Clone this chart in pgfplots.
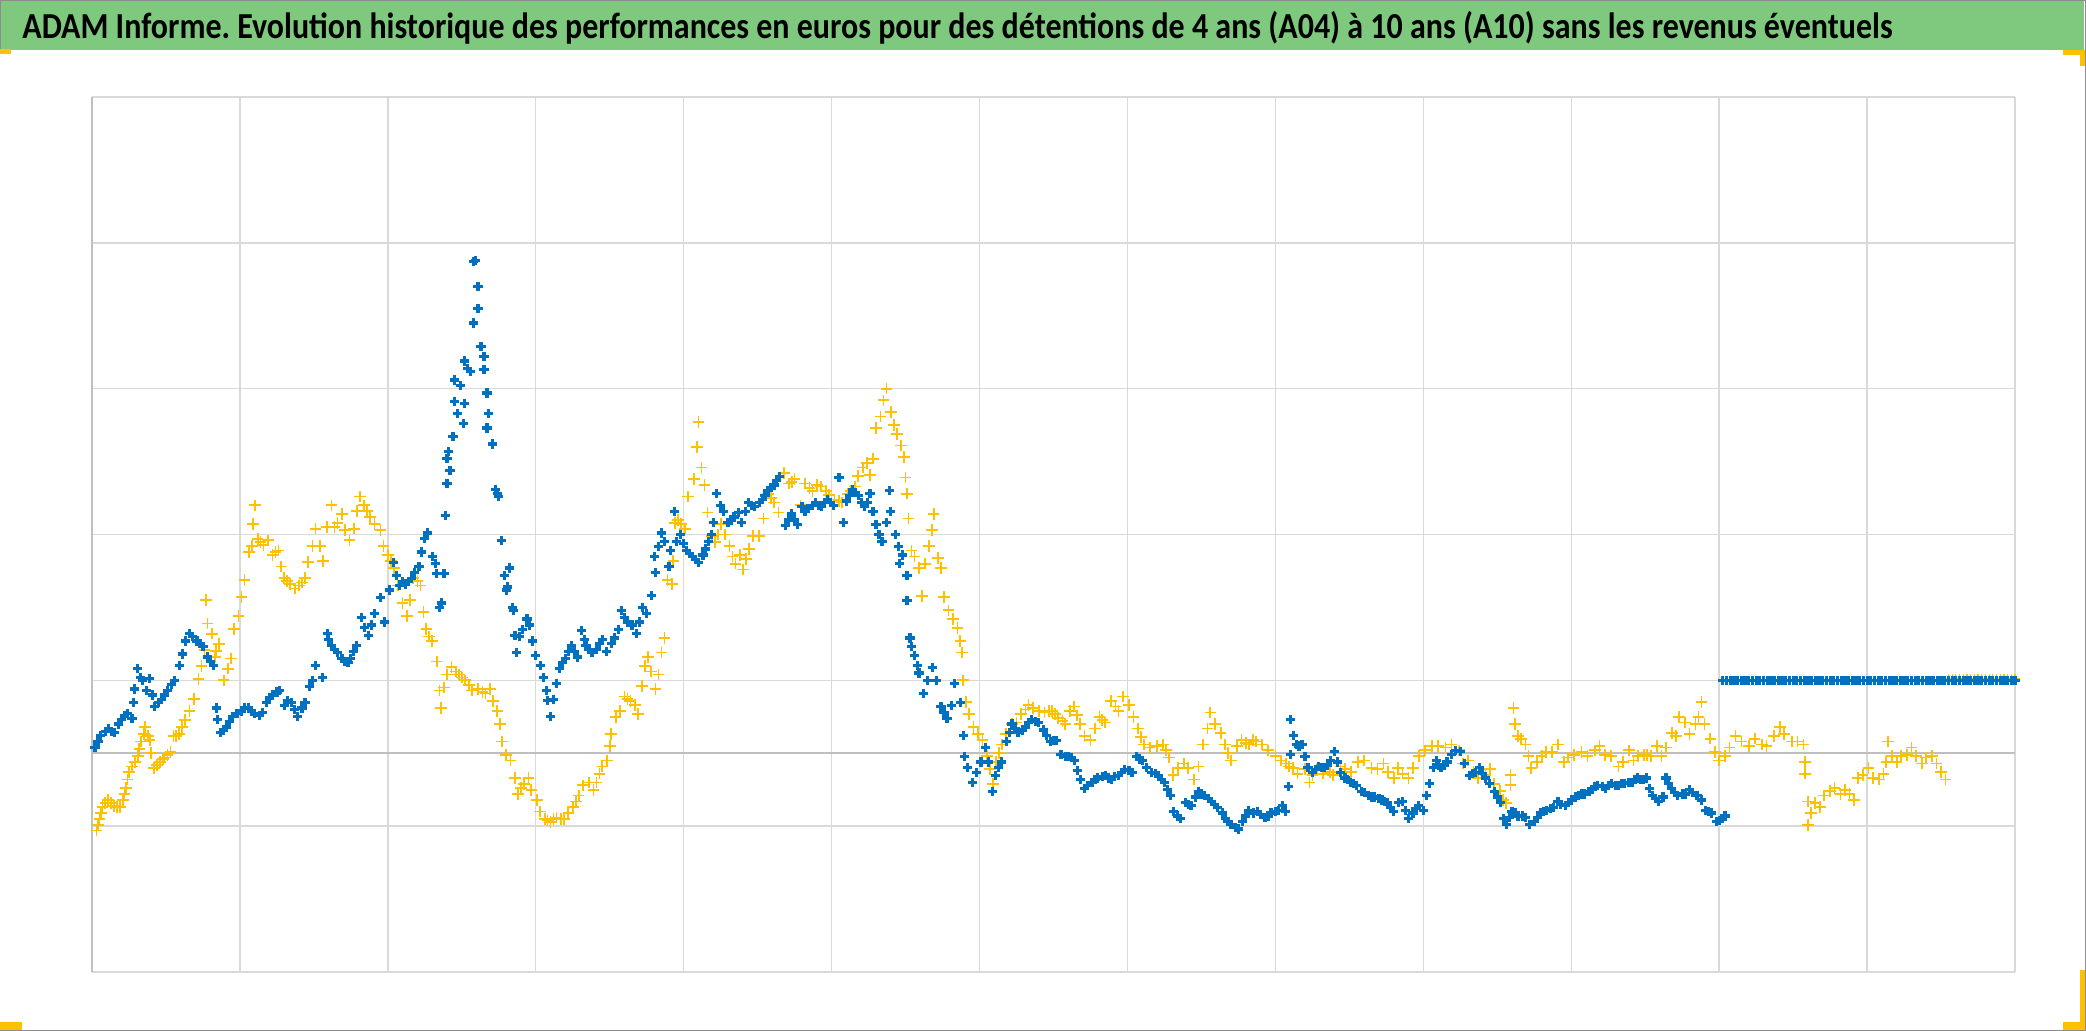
\documentclass[border=0pt]{standalone}
\usepackage{pgfplots}
\pgfplotsset{compat=1.18}
\usepackage{fontspec}
\setmainfont{Carlito}
\usepackage{graphicx}
\definecolor{blueA}{RGB}{0,112,192}
\definecolor{orangeA}{RGB}{255,192,0}
\definecolor{greenT}{RGB}{127,201,127}
\definecolor{gridg}{RGB}{217,217,217}
\definecolor{axisg}{RGB}{191,191,191}
\definecolor{frameg}{RGB}{140,140,140}
\frenchspacing
\begin{document}
\begin{tikzpicture}[x=1pt,y=1pt]
\fill[white] (0,0) rectangle (1043,515.5);
\fill[greenT] (0,490.5) rectangle (1042,515.5);
\draw[frameg, line width=0.6pt] (0.3,490.5) -- (0.3,515.2) -- (1042.7,515.2) -- (1042.7,0.3) -- (0,0.3);
\node[anchor=base west, inner sep=0pt] at (11,496.0) {\resizebox{935pt}{\height}{\fontsize{18.3}{21}\selectfont\bfseries ADAM Informe. Evolution historique des performances en euros pour des détentions de 4 ans (A04) à 10 ans (A10) sans les revenus éventuels}};
% selection handles
\fill[orangeA] (0,488.5) rectangle (5.5,491);
\fill[orangeA] (1031.5,488) rectangle (1042.5,490.5);
\fill[orangeA] (1040,482.5) rectangle (1042.5,490.5);
\fill[orangeA] (0,0.5) rectangle (11,4.5);
\fill[orangeA] (1040,0.5) rectangle (1042.5,30.5);
\fill[orangeA] (1031.5,0.5) rectangle (1042.5,4.5);
\begin{axis}[at={(46pt,29.5pt)}, anchor=south west, width=961.5pt, height=437.5pt, scale only axis,
  xmin=0, xmax=13, ymin=-1.5, ymax=4.5,
  xtick={0,...,13}, ytick={-1.5,-0.5,...,4.5}, xticklabels={}, yticklabels={},
  major tick length=0pt, xmajorgrids, ymajorgrids,
  major grid style={gridg, line width=0.7pt}, axis line style={draw=none}, clip=false]
\draw[axisg, line width=1.1pt] (axis cs:0,0) -- (axis cs:13,0);
\draw[axisg, line width=1.0pt] (axis cs:0,-1.5) -- (axis cs:0,4.5);
\addplot[orangeA, only marks, mark=+, mark size=2.9pt, line width=0.85pt] coordinates {
(0.03,-0.53)(0.04,-0.49)(0.05,-0.45)(0.06,-0.41)(0.07,-0.37)(0.09,-0.34)(0.11,-0.32)(0.13,-0.34)(0.15,-0.36)(0.17,-0.37)(0.19,-0.37)(0.21,-0.32)(0.22,-0.28)(0.23,-0.24)(0.24,-0.18)(0.25,-0.13)(0.27,-0.09)(0.29,-0.06)(0.31,-0.02)(0.32,0.03)(0.33,0.08)(0.35,0.13)(0.36,0.18)(0.38,0.12)(0.39,0.09)(0.40,0.00)(0.42,-0.10)(0.44,-0.08)(0.46,-0.06)(0.48,-0.04)(0.49,-0.03)(0.51,-0.01)(0.53,0.01)(0.55,0.12)(0.57,0.12)(0.59,0.13)(0.61,0.18)(0.63,0.23)(0.66,0.29)(0.69,0.37)(0.72,0.51)(0.74,0.60)(0.76,0.71)(0.77,1.05)(0.78,0.89)(0.81,0.82)(0.83,0.66)(0.84,0.70)(0.86,0.75)(0.89,0.50)(0.92,0.58)(0.94,0.65)(0.96,0.85)(0.99,0.94)(1.01,1.07)(1.03,1.19)(1.06,1.38)(1.08,1.42)(1.09,1.57)(1.10,1.70)(1.12,1.47)(1.14,1.45)(1.16,1.43)(1.19,1.46)(1.22,1.36)(1.24,1.38)(1.26,1.39)(1.28,1.28)(1.30,1.20)(1.32,1.18)(1.34,1.16)(1.37,1.13)(1.40,1.15)(1.42,1.17)(1.44,1.20)(1.46,1.31)(1.49,1.42)(1.51,1.54)(1.54,1.42)(1.56,1.32)(1.59,1.55)(1.62,1.70)(1.64,1.55)(1.66,1.58)(1.69,1.64)(1.71,1.53)(1.74,1.46)(1.77,1.54)(1.79,1.66)(1.81,1.76)(1.84,1.70)(1.86,1.66)(1.88,1.62)(1.91,1.57)(1.95,1.53)(1.97,1.42)(2.00,1.36)(2.02,1.32)(2.04,1.27)(2.07,1.15)(2.10,1.03)(2.13,0.94)(2.15,1.05)(2.17,1.20)(2.20,1.18)(2.22,1.15)(2.24,0.97)(2.26,0.85)(2.28,0.80)(2.30,0.77)(2.33,0.63)(2.35,0.43)(2.36,0.31)(2.38,0.45)(2.40,0.54)(2.43,0.59)(2.46,0.56)(2.48,0.54)(2.50,0.52)(2.52,0.50)(2.55,0.47)(2.57,0.43)(2.61,0.44)(2.64,0.42)(2.66,0.41)(2.69,0.44)(2.71,0.36)(2.74,0.29)(2.76,0.20)(2.77,0.08)(2.80,-0.01)(2.83,-0.05)(2.86,-0.17)(2.88,-0.28)(2.90,-0.24)(2.92,-0.21)(2.95,-0.17)(2.97,-0.25)(3.01,-0.32)(3.03,-0.40)(3.06,-0.45)(3.08,-0.46)(3.10,-0.47)(3.12,-0.45)(3.14,-0.44)(3.17,-0.45)(3.19,-0.45)(3.22,-0.41)(3.25,-0.37)(3.27,-0.33)(3.29,-0.29)(3.32,-0.22)(3.36,-0.20)(3.39,-0.25)(3.41,-0.20)(3.43,-0.14)(3.45,-0.09)(3.48,-0.05)(3.50,0.05)(3.51,0.13)(3.54,0.25)(3.57,0.29)(3.60,0.39)(3.62,0.37)(3.64,0.36)(3.67,0.33)(3.69,0.27)(3.72,0.46)(3.74,0.60)(3.76,0.66)(3.78,0.56)(3.81,0.44)(3.83,0.54)(3.85,0.69)(3.87,0.79)(3.89,1.19)(3.92,1.16)(3.93,1.32)(3.94,1.58)(3.96,1.60)(3.98,1.57)(4.01,1.54)(4.03,1.76)(4.07,1.88)(4.09,2.10)(4.10,2.27)(4.12,1.96)(4.14,1.84)(4.16,1.65)(4.19,1.49)(4.21,1.45)(4.23,1.50)(4.25,1.57)(4.28,1.50)(4.31,1.42)(4.33,1.35)(4.35,1.30)(4.38,1.36)(4.40,1.26)(4.42,1.33)(4.44,1.40)(4.47,1.49)(4.51,1.49)(4.54,1.61)(4.57,1.78)(4.59,1.75)(4.61,1.72)(4.64,1.65)(4.68,1.92)(4.71,1.85)(4.73,1.86)(4.75,1.88)(4.79,1.70)(4.82,1.85)(4.85,1.82)(4.87,1.80)(4.90,1.84)(4.93,1.83)(4.96,1.80)(4.98,1.77)(5.02,1.74)(5.05,1.73)(5.07,1.72)(5.11,1.78)(5.13,1.80)(5.16,1.83)(5.18,1.90)(5.21,1.96)(5.24,1.99)(5.26,1.91)(5.28,2.02)(5.30,2.23)(5.33,2.31)(5.35,2.42)(5.37,2.50)(5.40,2.34)(5.42,2.25)(5.44,2.19)(5.47,2.11)(5.49,2.03)(5.50,1.89)(5.51,1.78)(5.52,1.61)(5.54,1.39)(5.56,1.35)(5.59,1.27)(5.61,1.08)(5.63,1.30)(5.66,1.42)(5.68,1.53)(5.69,1.64)(5.72,1.34)(5.74,1.27)(5.76,1.07)(5.79,0.98)(5.82,0.92)(5.85,0.86)(5.87,0.77)(5.88,0.69)(5.89,0.50)(5.91,0.35)(5.93,0.27)(5.96,0.18)(5.99,0.13)(6.02,0.09)(6.05,-0.02)(6.07,-0.11)(6.09,-0.21)(6.11,-0.06)(6.13,0.00)(6.15,0.06)(6.18,0.13)(6.22,0.20)(6.25,0.21)(6.28,0.27)(6.31,0.30)(6.33,0.33)(6.36,0.31)(6.40,0.29)(6.44,0.28)(6.47,0.29)(6.49,0.29)(6.51,0.27)(6.53,0.24)(6.56,0.22)(6.58,0.20)(6.61,0.29)(6.64,0.32)(6.66,0.26)(6.68,0.20)(6.71,0.12)(6.75,0.09)(6.78,0.17)(6.81,0.25)(6.83,0.23)(6.85,0.21)(6.89,0.36)(6.92,0.32)(6.94,0.29)(6.97,0.39)(7.01,0.33)(7.04,0.25)(7.07,0.17)(7.09,0.11)(7.11,0.06)(7.15,0.04)(7.20,0.05)(7.24,0.06)(7.26,0.02)(7.28,-0.03)(7.31,-0.15)(7.34,-0.10)(7.38,-0.07)(7.41,-0.10)(7.45,-0.18)(7.48,-0.09)(7.51,0.06)(7.54,0.17)(7.56,0.28)(7.59,0.20)(7.63,0.14)(7.66,0.06)(7.68,0.00)(7.70,-0.05)(7.74,0.05)(7.77,0.09)(7.80,0.07)(7.82,0.06)(7.85,0.09)(7.87,0.08)(7.91,0.06)(7.95,0.02)(8.00,-0.02)(8.04,-0.05)(8.07,-0.07)(8.09,-0.09)(8.12,-0.10)(8.15,-0.14)(8.20,-0.11)(8.23,-0.20)(8.25,-0.15)(8.28,-0.11)(8.32,-0.14)(8.37,-0.13)(8.39,-0.15)(8.44,-0.09)(8.47,-0.11)(8.51,-0.13)(8.56,-0.06)(8.60,-0.05)(8.65,-0.10)(8.69,-0.11)(8.73,-0.07)(8.76,-0.13)(8.80,-0.17)(8.83,-0.10)(8.86,-0.14)(8.90,-0.17)(8.93,-0.10)(8.97,-0.02)(9.01,0.02)(9.06,0.05)(9.10,0.05)(9.15,0.04)(9.19,0.06)(9.24,0.02)(9.27,-0.07)(9.30,-0.05)(9.34,-0.13)(9.37,-0.17)(9.42,-0.15)(9.45,-0.11)(9.48,-0.21)(9.52,-0.26)(9.54,-0.32)(9.56,-0.34)(9.59,-0.22)(9.59,-0.15)(9.61,0.31)(9.62,0.20)(9.64,0.12)(9.66,0.10)(9.69,0.06)(9.71,-0.02)(9.73,-0.10)(9.77,-0.06)(9.80,-0.02)(9.83,0.01)(9.87,0.01)(9.91,0.06)(9.95,-0.06)(9.98,-0.03)(10.02,-0.01)(10.07,0.01)(10.11,-0.02)(10.16,0.02)(10.19,0.05)(10.23,-0.01)(10.27,-0.02)(10.32,-0.09)(10.35,-0.06)(10.39,0.02)(10.42,-0.05)(10.45,-0.02)(10.49,-0.01)(10.51,-0.01)(10.54,-0.02)(10.58,0.05)(10.61,-0.02)(10.64,0.04)(10.68,0.14)(10.71,0.12)(10.73,0.25)(10.77,0.21)(10.80,0.13)(10.84,0.20)(10.86,0.25)(10.88,0.35)(10.90,0.20)(10.94,0.10)(10.97,0.01)(11.00,-0.05)(11.04,-0.02)(11.07,0.04)(11.11,0.12)(11.15,0.08)(11.20,0.05)(11.24,0.10)(11.29,0.06)(11.32,0.05)(11.37,0.12)(11.41,0.18)(11.44,0.13)(11.49,0.08)(11.53,0.08)(11.57,0.06)(11.58,-0.06)(11.58,-0.14)(11.60,-0.33)(11.60,-0.49)(11.62,-0.41)(11.65,-0.34)(11.68,-0.37)(11.71,-0.29)(11.75,-0.26)(11.78,-0.24)(11.82,-0.28)(11.85,-0.25)(11.88,-0.28)(11.91,-0.32)(11.94,-0.17)(11.97,-0.15)(12.01,-0.10)(12.04,-0.17)(12.08,-0.18)(12.11,-0.14)(12.13,-0.06)(12.14,0.08)(12.17,-0.02)(12.20,-0.06)(12.23,-0.02)(12.27,-0.01)(12.30,0.04)(12.33,-0.02)(12.37,-0.07)(12.40,-0.03)(12.44,-0.02)(12.47,-0.07)(12.50,-0.13)(12.53,-0.18)
};
\addplot[orangeA, only marks, mark=+, mark size=2.3pt, line width=0.6pt] coordinates {
(12.55,0.51)(12.575,0.51)(12.6,0.51)(12.625,0.51)(12.65,0.51)(12.675,0.51)(12.7,0.51)(12.725,0.51)(12.75,0.51)(12.775,0.51)(12.8,0.51)(12.825,0.51)(12.85,0.51)(12.875,0.51)(12.9,0.51)(12.925,0.51)(12.95,0.51)(12.975,0.51)(13.0,0.51)
};
\addplot[blueA, only marks, mark=+, mark size=2.3pt, line width=1.6pt] coordinates {
(0.02,0.04)(0.04,0.08)(0.06,0.12)(0.09,0.15)(0.11,0.17)(0.13,0.15)(0.15,0.14)(0.18,0.20)(0.20,0.23)(0.22,0.26)(0.24,0.27)(0.27,0.24)(0.28,0.35)(0.29,0.44)(0.31,0.58)(0.33,0.52)(0.34,0.50)(0.37,0.43)(0.39,0.51)(0.41,0.40)(0.42,0.32)(0.45,0.35)(0.47,0.37)(0.49,0.40)(0.51,0.43)(0.54,0.47)(0.56,0.50)(0.59,0.60)(0.61,0.68)(0.63,0.77)(0.66,0.82)(0.68,0.80)(0.71,0.77)(0.73,0.75)(0.75,0.73)(0.78,0.66)(0.80,0.63)(0.82,0.60)(0.84,0.31)(0.85,0.23)(0.87,0.14)(0.89,0.16)(0.91,0.18)(0.93,0.22)(0.95,0.25)(0.98,0.27)(1.01,0.29)(1.03,0.31)(1.06,0.31)(1.08,0.29)(1.10,0.27)(1.13,0.26)(1.15,0.28)(1.18,0.35)(1.20,0.38)(1.22,0.40)(1.25,0.42)(1.27,0.43)(1.30,0.33)(1.32,0.36)(1.35,0.35)(1.37,0.30)(1.39,0.25)(1.42,0.31)(1.44,0.35)(1.47,0.46)(1.49,0.50)(1.51,0.60)(1.56,0.52)(1.59,0.82)(1.60,0.78)(1.62,0.74)(1.64,0.71)(1.66,0.69)(1.69,0.65)(1.71,0.63)(1.73,0.62)(1.75,0.65)(1.77,0.70)(1.79,0.74)(1.82,0.93)(1.84,0.86)(1.87,0.81)(1.89,0.88)(1.91,0.96)(1.95,1.07)(1.98,0.90)(2.01,1.12)(2.04,1.31)(2.06,1.22)(2.08,1.15)(2.10,1.18)(2.12,1.16)(2.14,1.18)(2.16,1.20)(2.18,1.24)(2.21,1.28)(2.23,1.38)(2.25,1.47)(2.27,1.51)(2.30,1.35)(2.32,1.30)(2.33,1.23)(2.35,1.00)(2.36,1.03)(2.38,1.23)(2.39,1.63)(2.40,1.85)(2.42,1.94)(2.40,2.02)(2.41,2.07)(2.44,2.17)(2.51,2.26)(2.47,2.33)(2.45,2.41)(2.52,2.40)(2.49,2.52)(2.45,2.56)(2.56,2.62)(2.52,2.69)(2.54,2.64)(2.58,2.95)(2.61,3.05)(2.61,3.20)(2.59,3.38)(2.58,3.37)(2.63,2.79)(2.65,2.72)(2.65,2.63)(2.67,2.47)(2.68,2.33)(2.67,2.23)(2.71,2.12)(2.73,1.81)(2.74,1.78)(2.75,1.76)(2.77,1.46)(2.79,1.22)(2.80,1.12)(2.82,1.27)(2.81,1.14)(2.84,1.00)(2.85,0.98)(2.86,0.81)(2.87,0.69)(2.89,0.80)(2.91,0.85)(2.94,0.92)(2.96,0.88)(2.98,0.77)(3.00,0.67)(3.03,0.60)(3.05,0.52)(3.07,0.43)(3.08,0.36)(3.10,0.25)(3.12,0.37)(3.14,0.48)(3.16,0.58)(3.18,0.62)(3.20,0.65)(3.22,0.70)(3.24,0.74)(3.26,0.70)(3.28,0.66)(3.31,0.84)(3.33,0.78)(3.34,0.74)(3.36,0.71)(3.38,0.69)(3.41,0.71)(3.43,0.75)(3.45,0.78)(3.48,0.70)(3.51,0.75)(3.53,0.79)(3.56,0.85)(3.58,0.98)(3.60,0.93)(3.62,0.90)(3.65,0.88)(3.68,0.82)(3.70,0.90)(3.72,1.00)(3.75,0.96)(3.78,1.08)(3.80,1.35)(3.81,1.24)(3.83,1.42)(3.85,1.51)(3.87,1.45)(3.90,1.28)(3.91,1.39)(3.94,1.66)(3.95,1.45)(3.98,1.50)(4.00,1.44)(4.02,1.39)(4.04,1.37)(4.06,1.35)(4.08,1.33)(4.10,1.31)(4.13,1.36)(4.15,1.40)(4.17,1.45)(4.19,1.50)(4.20,1.58)(4.22,1.78)(4.25,1.70)(4.27,1.66)(4.30,1.58)(4.32,1.60)(4.34,1.62)(4.37,1.65)(4.39,1.58)(4.42,1.66)(4.44,1.72)(4.46,1.70)(4.48,1.69)(4.51,1.72)(4.53,1.74)(4.55,1.77)(4.57,1.80)(4.59,1.82)(4.61,1.84)(4.63,1.87)(4.65,1.90)(4.69,1.56)(4.71,1.60)(4.73,1.64)(4.75,1.60)(4.77,1.57)(4.80,1.69)(4.82,1.66)(4.84,1.68)(4.87,1.70)(4.89,1.72)(4.91,1.70)(4.93,1.69)(4.95,1.72)(4.97,1.74)(4.99,1.72)(5.01,1.70)(5.05,1.89)(5.08,1.58)(5.10,1.73)(5.12,1.77)(5.14,1.81)(5.16,1.79)(5.18,1.77)(5.20,1.72)(5.22,1.69)(5.24,1.72)(5.26,1.78)(5.28,1.66)(5.30,1.57)(5.32,1.50)(5.34,1.45)(5.37,1.58)(5.39,1.80)(5.40,1.66)(5.43,1.50)(5.45,1.42)(5.46,1.30)(5.48,1.36)(5.51,1.22)(5.51,1.05)(5.53,0.79)(5.54,0.73)(5.56,0.67)(5.58,0.60)(5.59,0.55)(5.62,0.41)(5.65,0.50)(5.68,0.59)(5.71,0.50)(5.74,0.32)(5.76,0.28)(5.78,0.24)(5.81,0.33)(5.83,0.48)(5.87,0.35)(5.89,0.12)(5.90,-0.02)(5.92,-0.10)(5.95,-0.20)(5.98,-0.13)(6.01,-0.06)(6.04,0.04)(6.06,-0.06)(6.09,-0.26)(6.11,-0.15)(6.13,-0.10)(6.15,-0.06)(6.18,0.08)(6.20,0.14)(6.22,0.20)(6.24,0.17)(6.26,0.14)(6.29,0.16)(6.31,0.18)(6.33,0.21)(6.35,0.23)(6.38,0.22)(6.40,0.21)(6.43,0.16)(6.45,0.12)(6.48,0.08)(6.50,0.09)(6.52,0.09)(6.55,-0.01)(6.58,-0.02)(6.60,-0.02)(6.62,-0.03)(6.64,-0.05)(6.66,-0.12)(6.68,-0.18)(6.71,-0.24)(6.73,-0.22)(6.76,-0.20)(6.78,-0.18)(6.80,-0.17)(6.83,-0.16)(6.85,-0.15)(6.87,-0.17)(6.89,-0.18)(6.91,-0.16)(6.94,-0.15)(6.96,-0.13)(6.98,-0.11)(7.01,-0.12)(7.03,-0.13)(7.06,-0.02)(7.08,-0.04)(7.10,-0.05)(7.13,-0.10)(7.16,-0.13)(7.19,-0.14)(7.21,-0.15)(7.23,-0.18)(7.25,-0.20)(7.27,-0.25)(7.29,-0.29)(7.31,-0.40)(7.34,-0.43)(7.36,-0.45)(7.39,-0.34)(7.41,-0.35)(7.43,-0.36)(7.46,-0.30)(7.48,-0.26)(7.50,-0.28)(7.52,-0.29)(7.55,-0.31)(7.57,-0.33)(7.59,-0.35)(7.61,-0.37)(7.64,-0.41)(7.66,-0.45)(7.68,-0.47)(7.70,-0.49)(7.73,-0.51)(7.75,-0.52)(7.78,-0.47)(7.80,-0.43)(7.82,-0.39)(7.85,-0.41)(7.88,-0.40)(7.90,-0.42)(7.93,-0.44)(7.95,-0.43)(7.97,-0.41)(8.00,-0.40)(8.02,-0.39)(8.05,-0.36)(8.07,-0.40)(8.09,-0.23)(8.10,-0.01)(8.10,0.23)(8.12,0.12)(8.14,0.06)(8.16,0.05)(8.18,0.06)(8.20,-0.02)(8.22,-0.10)(8.25,-0.13)(8.27,-0.11)(8.29,-0.09)(8.31,-0.10)(8.33,-0.10)(8.35,-0.08)(8.37,-0.05)(8.40,0.01)(8.42,-0.06)(8.44,-0.13)(8.47,-0.17)(8.49,-0.18)(8.51,-0.20)(8.53,-0.21)(8.55,-0.22)(8.58,-0.26)(8.60,-0.27)(8.63,-0.29)(8.65,-0.30)(8.67,-0.30)(8.70,-0.31)(8.72,-0.32)(8.74,-0.33)(8.76,-0.34)(8.78,-0.37)(8.80,-0.40)(8.83,-0.34)(8.86,-0.33)(8.88,-0.39)(8.90,-0.45)(8.93,-0.41)(8.95,-0.38)(8.97,-0.36)(9.00,-0.39)(9.02,-0.29)(9.04,-0.21)(9.07,-0.10)(9.09,-0.05)(9.10,-0.08)(9.12,-0.10)(9.14,-0.08)(9.16,-0.06)(9.19,-0.01)(9.22,0.02)(9.25,0.01)(9.28,-0.07)(9.31,-0.15)(9.33,-0.14)(9.35,-0.13)(9.38,-0.10)(9.40,-0.14)(9.42,-0.17)(9.45,-0.21)(9.48,-0.26)(9.50,-0.30)(9.52,-0.34)(9.54,-0.45)(9.56,-0.49)(9.58,-0.44)(9.60,-0.40)(9.62,-0.41)(9.64,-0.43)(9.67,-0.43)(9.69,-0.44)(9.72,-0.49)(9.75,-0.47)(9.77,-0.44)(9.79,-0.41)(9.81,-0.40)(9.83,-0.39)(9.86,-0.38)(9.88,-0.37)(9.91,-0.33)(9.93,-0.35)(9.96,-0.36)(9.98,-0.34)(10.00,-0.32)(10.03,-0.30)(10.05,-0.29)(10.07,-0.28)(10.09,-0.28)(10.12,-0.26)(10.14,-0.25)(10.16,-0.23)(10.18,-0.22)(10.21,-0.23)(10.23,-0.24)(10.25,-0.22)(10.27,-0.21)(10.30,-0.22)(10.32,-0.22)(10.34,-0.21)(10.36,-0.21)(10.39,-0.20)(10.41,-0.20)(10.43,-0.18)(10.45,-0.17)(10.47,-0.18)(10.49,-0.18)(10.51,-0.17)(10.53,-0.24)(10.55,-0.29)(10.57,-0.31)(10.59,-0.33)(10.62,-0.30)(10.64,-0.17)(10.66,-0.21)(10.68,-0.24)(10.70,-0.27)(10.72,-0.29)(10.75,-0.28)(10.77,-0.28)(10.80,-0.25)(10.82,-0.27)(10.85,-0.29)(10.88,-0.32)(10.91,-0.39)(10.93,-0.40)(10.95,-0.41)(10.98,-0.47)(11.00,-0.46)(11.02,-0.45)(11.04,-0.43)
};
\addplot[blueA, only marks, mark=+, mark size=2.3pt, line width=1.6pt] coordinates {
(11.025,0.5)(11.05,0.5)(11.075,0.5)(11.1,0.5)(11.125,0.5)(11.15,0.5)(11.175,0.5)(11.2,0.5)(11.225,0.5)(11.25,0.5)(11.275,0.5)(11.3,0.5)(11.325,0.5)(11.35,0.5)(11.375,0.5)(11.4,0.5)(11.425,0.5)(11.45,0.5)(11.475,0.5)(11.5,0.5)(11.525,0.5)(11.55,0.5)(11.575,0.5)(11.6,0.5)(11.625,0.5)(11.65,0.5)(11.675,0.5)(11.7,0.5)(11.725,0.5)(11.75,0.5)(11.775,0.5)(11.8,0.5)(11.825,0.5)(11.85,0.5)(11.875,0.5)(11.9,0.5)(11.925,0.5)(11.95,0.5)(11.975,0.5)(12.0,0.5)(12.025,0.5)(12.05,0.5)(12.075,0.5)(12.1,0.5)(12.125,0.5)(12.15,0.5)(12.175,0.5)(12.2,0.5)(12.225,0.5)(12.25,0.5)(12.275,0.5)(12.3,0.5)(12.325,0.5)(12.35,0.5)(12.375,0.5)(12.4,0.5)(12.425,0.5)(12.45,0.5)(12.475,0.5)(12.5,0.5)(12.525,0.5)(12.55,0.5)(12.575,0.5)(12.6,0.5)(12.625,0.5)(12.65,0.5)(12.675,0.5)(12.7,0.5)(12.725,0.5)(12.75,0.5)(12.775,0.5)(12.8,0.5)(12.825,0.5)(12.85,0.5)(12.875,0.5)(12.9,0.5)(12.925,0.5)(12.95,0.5)(12.975,0.5)(13.0,0.5)
};
\end{axis}
\pgfresetboundingbox
\useasboundingbox (0,0) rectangle (1043,515.5);
\end{tikzpicture}
\end{document}
